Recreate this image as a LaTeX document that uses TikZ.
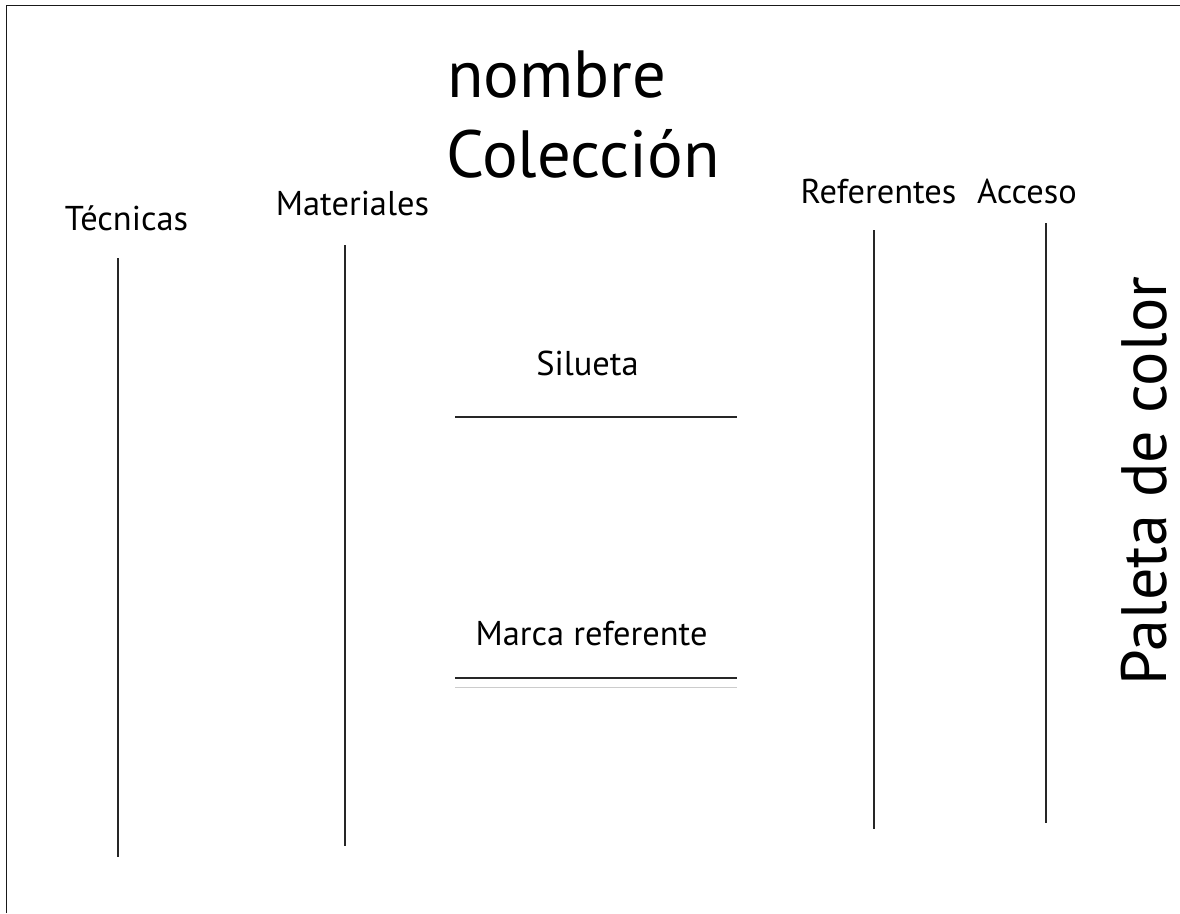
\documentclass[tikz,border=0pt]{standalone}
\usepackage{fontspec}
\setmainfont{PT Sans}
\usetikzlibrary{positioning}
\tikzstyle{titulo} = [inner sep=0pt, anchor=base west, font=\fontsize{38}{46}\selectfont]
\tikzstyle{campo} = [inner sep=0pt, anchor=base, font=\fontsize{19.6}{24}\selectfont]
\tikzstyle{linea} = [line width=0.8pt, black!85]

\begin{document}
\begin{tikzpicture}[x=0.02cm, y=-0.02cm]
    \useasboundingbox (0,0) rectangle (1180,913);
    % marco
    \draw[line width=1.1pt, black!90] (6.5,913) -- (6.5,5.5) -- (1180,5.5);

    % titulo
    \node[titulo] (nombre) at (447,97) {nombre};
    \node[titulo] (coleccion) at (446,177) {Colección};

    % columnas
    \node[campo] (tecnicas) at (126.5,230) {Técnicas};
    \node[campo] (materiales) at (352.5,215) {Materiales};
    \node[campo] (referentes) at (878.5,203) {Referentes};
    \node[campo] (acceso) at (1027,203) {Acceso};

    \foreach \n/\x/\ya/\yb in {tec/118/258/857, mat/345/245/846, ref/874/230/829, acc/1046/223/823}{
        \coordinate (\n-a) at (\x,\ya);
        \coordinate (\n-b) at (\x,\yb);
        \draw[linea] (\n-a) -- (\n-b);
    }

    % centro
    \node[campo] (silueta) at (587.5,375) {Silueta};
    \coordinate (sil-a) at (455,417);
    \coordinate (sil-b) at (737,417);
    \draw[linea] (sil-a) -- (sil-b);

    \node[campo] (marca) at (591.5,645) {Marca referente};
    \coordinate (mar-a) at (455,678);
    \coordinate (mar-b) at (737,678);
    \coordinate (gris-a) at (455,687);
    \coordinate (gris-b) at (737,687);
    \draw[linea] (mar-a) -- (mar-b);
    \draw[line width=0.5pt, black!20] (gris-a) -- (gris-b);

    % paleta
    \node[inner sep=0pt, anchor=base, rotate=90, text depth=0pt, font=\fontsize{36.5}{44}\selectfont] (paleta) at (1166,481) {Paleta de color};
\end{tikzpicture}
\end{document}
